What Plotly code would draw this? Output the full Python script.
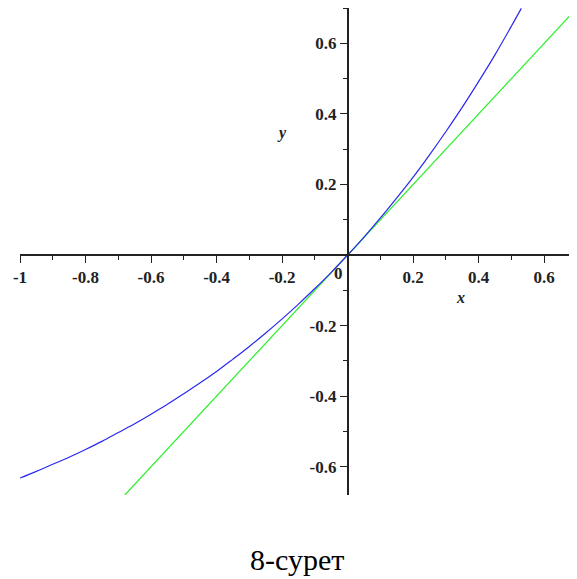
import plotly.graph_objects as go

# Blue curve
blue_x = [-1.0, -0.95, -0.9, -0.85, -0.8, -0.75, -0.7, -0.65, -0.6, -0.55, -0.5,
          -0.45, -0.4, -0.35, -0.3, -0.25, -0.2, -0.15, -0.1, -0.05, 0.0,
          0.05, 0.1, 0.15, 0.2, 0.25, 0.3, 0.35, 0.4, 0.45, 0.5, 0.53]
blue_y = [-0.632, -0.613, -0.593, -0.573, -0.551, -0.528, -0.503, -0.478, -0.451, -0.423, -0.393,
          -0.362, -0.330, -0.295, -0.259, -0.221, -0.181, -0.139, -0.095, -0.049, 0.0,
          0.051, 0.105, 0.162, 0.221, 0.284, 0.350, 0.419, 0.492, 0.568, 0.649, 0.699]

# Green line
green_x = [-0.68, 0.70]
green_y = [-0.68, 0.70]

x_tickvals = [-1, -0.8, -0.6, -0.4, -0.2, 0.2, 0.4, 0.6]
x_ticktext = ["-1", "-0.8", "-0.6", "-0.4", "-0.2", "0.2", "0.4", "0.6"]
y_tickvals = [-0.6, -0.4, -0.2, 0.2, 0.4, 0.6]
y_ticktext = ["-0.6", "-0.4", "-0.2", "0.2", "0.4", "0.6"]

x_range = [-1.0, 0.70]
y_range = [-0.68, 0.70]

caption = "8-сурет"

fig = go.Figure()
fig.add_trace(go.Scatter(x=green_x, y=green_y, mode="lines",
                         line=dict(color="rgb(40,240,40)", width=1.2), showlegend=False))
fig.add_trace(go.Scatter(x=blue_x, y=blue_y, mode="lines", line_shape="spline",
                         line=dict(color="rgb(40,40,240)", width=1.2), showlegend=False))

serif = "Liberation Serif"
tickfont = dict(family=serif, size=17, color="#222", weight="bold")
axcol = "#222"

fig.update_layout(
    width=569, height=571,
    margin=dict(l=12, r=0, t=0, b=84),
    paper_bgcolor="white", plot_bgcolor="white",
    font=dict(family=serif),
    xaxis=dict(range=x_range, showgrid=False, zeroline=False,
               anchor="free", position=(0 - y_range[0]) / (y_range[1] - y_range[0]),
               showline=True, linecolor=axcol, linewidth=1.5,
               tickmode="array", tickvals=x_tickvals, ticktext=x_ticktext,
               ticks="outside", ticklen=7, tickwidth=1.2, tickcolor=axcol,
               tickfont=tickfont,
               minor=dict(dtick=0.1, tick0=0, ticks="outside", ticklen=4,
                          tickwidth=1, tickcolor=axcol, showgrid=False)),
    yaxis=dict(range=y_range, showgrid=False, zeroline=False,
               anchor="free", position=(0 - x_range[0]) / (x_range[1] - x_range[0]),
               showline=True, linecolor=axcol, linewidth=1.5,
               tickmode="array", tickvals=y_tickvals, ticktext=y_ticktext,
               ticks="outside", ticklen=7, tickwidth=1.2, tickcolor=axcol,
               tickfont=tickfont,
               minor=dict(dtick=0.1, tick0=0, ticks="outside", ticklen=4,
                          tickwidth=1, tickcolor=axcol, showgrid=False)),
    annotations=[
        dict(x=0, y=0, xref="x", yref="y", text="0", showarrow=False,
             xanchor="right", yanchor="top", xshift=-3, yshift=-7, font=tickfont),
        dict(x=0.345, y=0, xref="x", yref="y", text="<i>x</i>", showarrow=False,
             xanchor="center", yanchor="middle", yshift=-42,
             font=dict(family=serif, size=16, color="#222", weight="bold")),
        dict(x=0, y=0.345, xref="x", yref="y", text="<i>y</i>", showarrow=False,
             xanchor="center", yanchor="middle", xshift=-66,
             font=dict(family=serif, size=16, color="#222", weight="bold")),
        dict(x=(297 - 20) / 557, y=0, xref="paper", yref="paper", text=caption, showarrow=False,
             xanchor="center", yanchor="middle", yshift=-64,
             font=dict(family=serif, size=30, color="black")),
    ],
)

fig.write_html("out.html")
